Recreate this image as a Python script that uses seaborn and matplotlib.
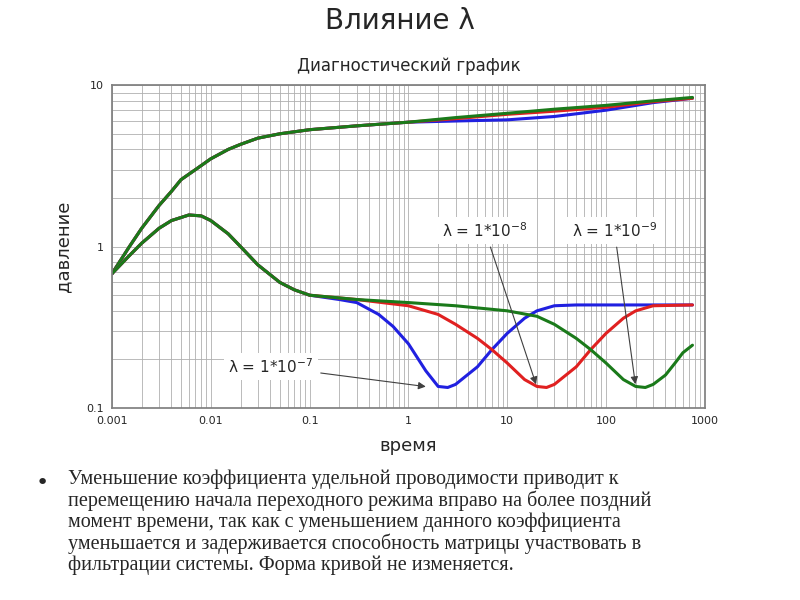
import numpy as np
import pandas as pd
import matplotlib
matplotlib.use("Agg")
import matplotlib.pyplot as plt
import seaborn as sns
from matplotlib.ticker import FixedLocator, FixedFormatter, NullFormatter

# --- data ---
t_common = [0.001, 0.0015, 0.002, 0.003, 0.004, 0.005, 0.007, 0.01, 0.015, 0.02, 0.03, 0.05, 0.1, 0.3, 1]
p_common = [0.68, 1.0, 1.3, 1.8, 2.2, 2.6, 3.0, 3.5, 4.0, 4.3, 4.7, 5.0, 5.3, 5.6, 5.9]
t_tail = [3, 10, 30, 100, 300, 750]
p_blue = [6.0, 6.1, 6.4, 7.0, 7.8, 8.3]
p_red = [6.2, 6.6, 6.9, 7.3, 7.9, 8.3]
p_green = [6.3, 6.7, 7.1, 7.5, 8.0, 8.4]

t_d_common = [0.001, 0.0015, 0.002, 0.003, 0.004, 0.006, 0.008, 0.01, 0.015, 0.02, 0.03, 0.05, 0.07, 0.1]
d_common = [0.68, 0.88, 1.05, 1.3, 1.45, 1.57, 1.55, 1.45, 1.2, 1.0, 0.77, 0.6, 0.54, 0.5]
t_d_blue = [0.2, 0.3, 0.5, 0.7, 1, 1.5, 2, 2.5, 3, 5, 7, 10, 15, 20, 30, 50, 750]
d_blue = [0.47, 0.45, 0.38, 0.32, 0.25, 0.17, 0.136, 0.134, 0.14, 0.18, 0.23, 0.29, 0.36, 0.4, 0.43, 0.435, 0.435]
t_d_red = [0.3, 1, 2, 3, 5, 7, 10, 15, 20, 25, 30, 50, 70, 100, 150, 200, 300, 750]
d_red = [0.47, 0.43, 0.38, 0.33, 0.27, 0.23, 0.19, 0.15, 0.136, 0.134, 0.14, 0.18, 0.23, 0.29, 0.36, 0.4, 0.43, 0.435]
t_d_green = [0.3, 1, 3, 10, 20, 30, 50, 70, 100, 150, 200, 250, 300, 400, 500, 600, 750]
d_green = [0.47, 0.45, 0.43, 0.40, 0.37, 0.33, 0.27, 0.23, 0.19, 0.15, 0.136, 0.134, 0.14, 0.16, 0.19, 0.22, 0.245]

colors = {"blue": "#2020e0", "red": "#e02020", "green": "#1a7a1a"}

rows = []
for name, tt, pp in [("blue", t_tail, p_blue), ("red", t_tail, p_red), ("green", t_tail, p_green)]:
    for x, y in zip(t_common + tt, p_common + pp):
        rows.append((name + "_p", x, y))
for name, tt, dd in [("blue", t_d_blue, d_blue), ("red", t_d_red, d_red), ("green", t_d_green, d_green)]:
    for x, y in zip(t_d_common + tt, d_common + dd):
        rows.append((name + "_d", x, y))
df = pd.DataFrame(rows, columns=["curve", "t", "p"])

sns.set_theme(style="white")
fig = plt.figure(figsize=(8, 6), dpi=100)
ax = fig.add_axes([0.14, 0.32, 0.741, 0.538])

for curve in ["blue_p", "red_p", "green_p", "blue_d", "red_d", "green_d"]:
    sub = df[df["curve"] == curve]
    sns.lineplot(data=sub, x="t", y="p", ax=ax, color=colors[curve.split("_")[0]],
                 lw=2.2, sort=False, estimator=None)

ax.set_xscale("log")
ax.set_yscale("log")
ax.set_xlim(0.001, 1000)
ax.set_ylim(0.1, 10)
ax.grid(True, which="both", color="#b0b0b0", lw=0.6)
for s in ax.spines.values():
    s.set_color("#808080")
ax.xaxis.set_major_locator(FixedLocator([0.001, 0.01, 0.1, 1, 10, 100, 1000]))
ax.xaxis.set_major_formatter(FixedFormatter(["0.001", "0.01", "0.1", "1", "10", "100", "1000"]))
ax.yaxis.set_major_locator(FixedLocator([0.1, 1, 10]))
ax.yaxis.set_major_formatter(FixedFormatter(["0.1", "1", "10"]))
ax.xaxis.set_minor_formatter(NullFormatter())
ax.yaxis.set_minor_formatter(NullFormatter())
ax.tick_params(labelsize=8, length=0, pad=6)
ax.set_xlabel("время", fontsize=13, labelpad=8)
ax.set_ylabel("давление", fontsize=13, labelpad=10)
ax.set_title("Диагностический график", fontsize=12, pad=10)

box = dict(boxstyle="square,pad=0.3", fc="white", ec="none")
ap = dict(arrowstyle="-|>", color="#404040", lw=0.8)
ax.annotate("λ = 1*10$^{-7}$", xy=(1.6, 0.135), xytext=(0.015, 0.165),
            fontsize=11, bbox=box, arrowprops=ap)
ax.annotate("λ = 1*10$^{-8}$", xy=(20, 0.135), xytext=(2.2, 1.15),
            fontsize=11, bbox=box, arrowprops=ap)
ax.annotate("λ = 1*10$^{-9}$", xy=(200, 0.135), xytext=(45, 1.15),
            fontsize=11, bbox=box, arrowprops=ap)

fig.text(0.5, 0.965, "Влияние λ", ha="center", va="center", fontsize=20)
fig.text(0.045, 0.195, "•", fontsize=16, va="center")
fig.text(0.085, 0.218,
         "Уменьшение коэффициента удельной проводимости приводит к\n"
         "перемещению начала переходного режима вправо на более поздний\n"
         "момент времени, так как с уменьшением данного коэффициента\n"
         "уменьшается и задерживается способность матрицы участвовать в\n"
         "фильтрации системы. Форма кривой не изменяется.",
         fontsize=14.5, family="Liberation Serif", va="top", linespacing=1.1)

fig.savefig("out.png", dpi=100)
